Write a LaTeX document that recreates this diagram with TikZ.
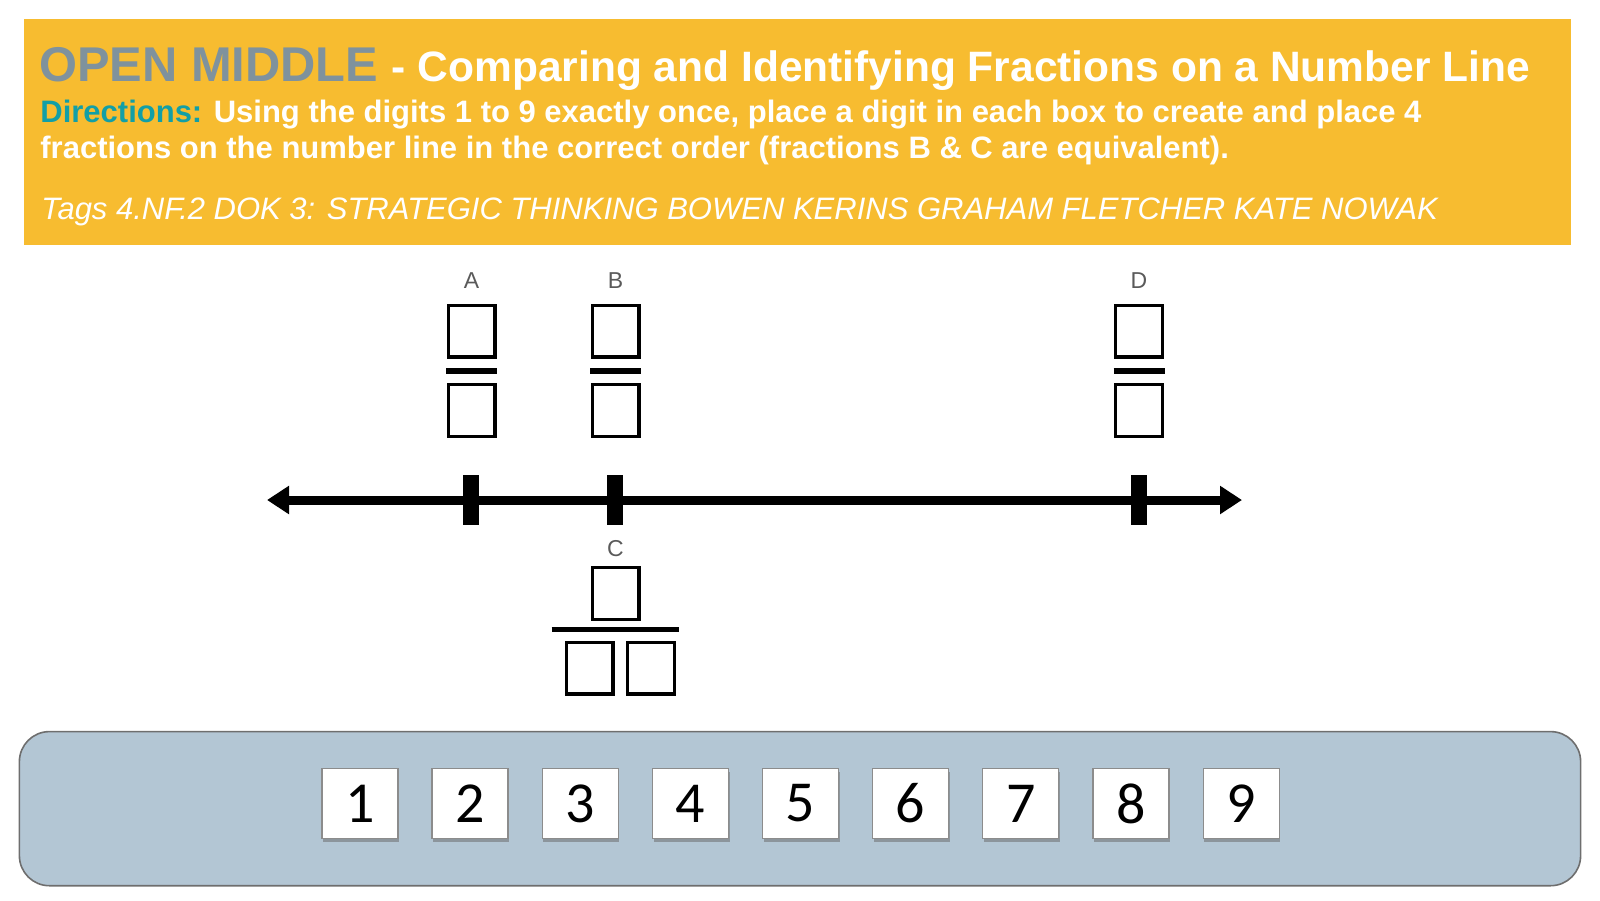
\documentclass[tikz,border=0pt]{standalone}
\usepackage{fontspec}
\setmainfont{Liberation Sans}
\newfontfamily\digitfont{Carlito}
\usetikzlibrary{arrows.meta,shadows}
\definecolor{banner}{HTML}{F7BC30}
\definecolor{omgray}{HTML}{7F929D}
\definecolor{dirteal}{HTML}{129FA6}
\definecolor{panelblue}{HTML}{B3C6D4}
\definecolor{paneledge}{HTML}{6E6E6E}
\definecolor{labelgray}{HTML}{5A5A5A}
\tikzset{
  fbox/.style={draw=black, line width=1.7pt, minimum width=23.3pt, minimum height=25.8pt, inner sep=0pt, outer sep=0pt},
  fbar/.style={line width=2.7pt},
  tickmark/.style={fill=black, minimum width=8pt, minimum height=25pt, inner sep=0pt},
  ptlabel/.style={text=labelgray, font=\fontsize{11.5}{12}\selectfont, anchor=base, inner sep=0pt},
  card/.style={draw=black!45, line width=0.6pt, fill=white, minimum width=38pt, minimum height=35.2pt, inner sep=0pt,
    drop shadow={shadow xshift=0.6pt, shadow yshift=-1.6pt, fill=black!60, opacity=0.5},
    font=\digitfont\fontsize{29}{30}\selectfont},
  numline/.style={line width=4.5pt, {Triangle[length=11pt,width=13.5pt]}-{Triangle[length=11pt,width=13.5pt]}},
  panelbox/.style={fill=panelblue, draw=paneledge, line width=0.8pt, rounded corners=15pt},
  txt/.style={anchor=base west, inner sep=0pt}
}
\begin{document}
\begin{tikzpicture}[x=0.5pt,y=-0.5pt]
\useasboundingbox (0,0) rectangle (1600,900);
% banner
\fill[banner] (23.5,19.4) rectangle (1571,245);
\node[txt] (title) at (39,81) {\bfseries\fontsize{24.4}{26}\selectfont\textcolor{omgray}{OPEN MIDDLE} \fontsize{21.25}{26}\selectfont\textcolor{white}{- Comparing and Identifying Fractions on a Number Line}};
\node[txt] (dir1) at (40,122) {\bfseries\fontsize{15.5}{18}\selectfont\textcolor{dirteal}{Directions:} \textcolor{white}{Using the digits 1 to 9 exactly once, place a digit in each box to create and place 4}};
\node[txt] (dir2) at (40,158) {\bfseries\fontsize{15.5}{18}\selectfont\textcolor{white}{fractions on the number line in the correct order (fractions B \& C are equivalent).}};
\node[txt] (tags) at (41,219) {\itshape\fontsize{15.5}{18}\selectfont\textcolor{white}{Tags 4.NF.2 DOK 3: STRATEGIC THINKING BOWEN KERINS GRAHAM FLETCHER KATE NOWAK}};

% number line
\coordinate (lend) at (267,500);
\coordinate (rend) at (1242,500);
\draw[numline] (lend) -- (rend);
\node[tickmark] (tA) at (471,500) {};
\node[tickmark] (tB) at (615,500) {};
\node[tickmark] (tD) at (1139,500) {};

% fraction A
\node[ptlabel] (lA) at (471.5,288) {A};
\node[fbox] (Anum) at (471.5,331) {};
\draw[fbar] (446,371) -- (497,371);
\node[fbox] (Aden) at (471.5,410.5) {};
% fraction B
\node[ptlabel] (lB) at (615.5,288) {B};
\node[fbox] (Bnum) at (615.5,331) {};
\draw[fbar] (590,371) -- (641,371);
\node[fbox] (Bden) at (615.5,410.5) {};
% fraction D
\node[ptlabel] (lD) at (1139,288) {D};
\node[fbox] (Dnum) at (1139,331) {};
\draw[fbar] (1113.5,371) -- (1164.5,371);
\node[fbox] (Dden) at (1139,410.5) {};
% fraction C
\node[ptlabel] (lC) at (615.5,556) {C};
\node[fbox] (Cnum) at (615.5,593.5) {};
\draw[fbar] (551.7,629.3) -- (679,629.3);
\node[fbox] (Cden1) at (589.7,668) {};
\node[fbox] (Cden2) at (651,668) {};

% digit panel
\draw[panelbox] (19.4,731.6) rectangle (1580.6,885.7);
\foreach \i in {1,...,9} {
  \node[card] (d\i) at ({359.9+110.15*(\i-1)},803.5) {\i};
}
\end{tikzpicture}
\end{document}
